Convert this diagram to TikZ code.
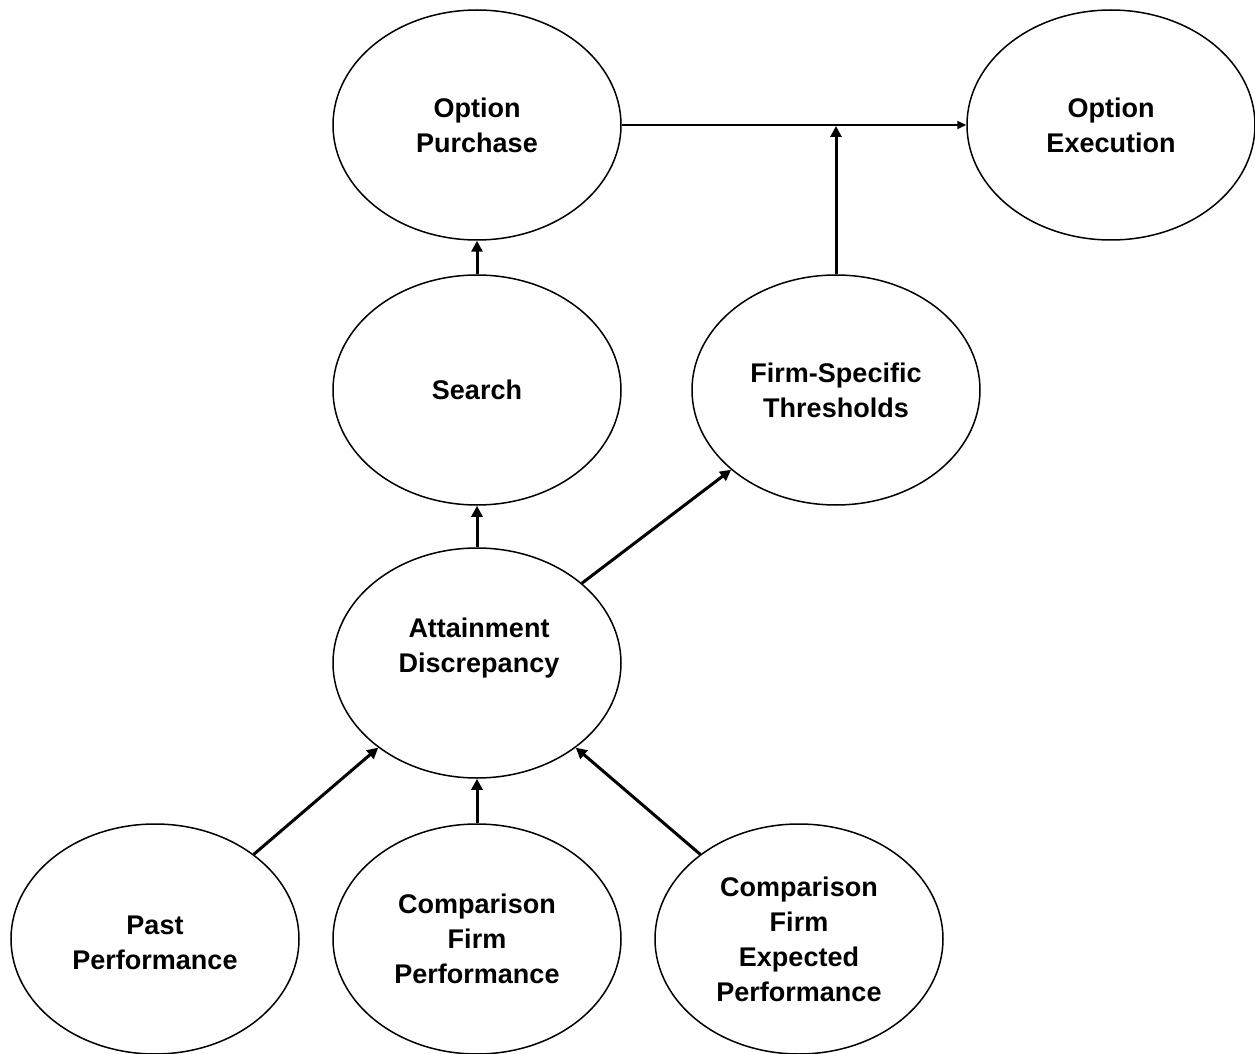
\documentclass[tikz,border=0pt]{standalone}
\usepackage{fontspec}
\setmainfont{Liberation Sans}
\usetikzlibrary{shapes.geometric,arrows.meta}
\begin{document}
\begin{tikzpicture}[x=0.5pt,y=-0.5pt,
  bubtxt/.style={align=center,inner sep=0pt,font=\fontsize{13.5}{17.5}\selectfont\bfseries},
  bub/.style={ellipse,draw=black,line width=0.75pt,minimum width=144pt,minimum height=115pt,inner sep=0pt,bubtxt},
  thickarr/.style={line width=1.5pt,-{Triangle[length=5.5pt,width=5.5pt]}},
  thinarr/.style={line width=1pt,-{Triangle[length=4.5pt,width=4pt]}}]
\useasboundingbox (0,0) rectangle (1255,1054);
\node[bub] (op) at (477,125) {Option\\Purchase};
\node[bub] (oe) at (1111,125) {Option\\Execution};
\node[bub] (se) at (477,390) {Search};
\node[bub] (fs) at (836,390) {Firm-Specific\\Thresholds};
\node[bub] (ad) at (477,663) {};
\node[bubtxt] (adt) at (479,648) {Attainment\\Discrepancy};
\node[bub] (pp) at (155,939) {};
\node[bubtxt] (ppt) at (155,943) {Past\\Performance};
\node[bub] (cf) at (477,939) {Comparison\\Firm\\Performance};
\node[bub] (ce) at (799,939) {Comparison\\Firm\\Expected\\Performance};
\coordinate (j) at (836,126);
\draw[thinarr] (op.east) -- (oe.west);
\draw[thickarr] (fs.north) -- (j);
\draw[thickarr] (se.north) -- (op.south);
\draw[thickarr] (ad.north) -- (se.south);
\draw[thickarr] (ad) -- (fs);
\draw[thickarr] (pp) -- (ad);
\draw[thickarr] (cf.north) -- (ad.south);
\draw[thickarr] (ce) -- (ad);
\end{tikzpicture}
\end{document}
